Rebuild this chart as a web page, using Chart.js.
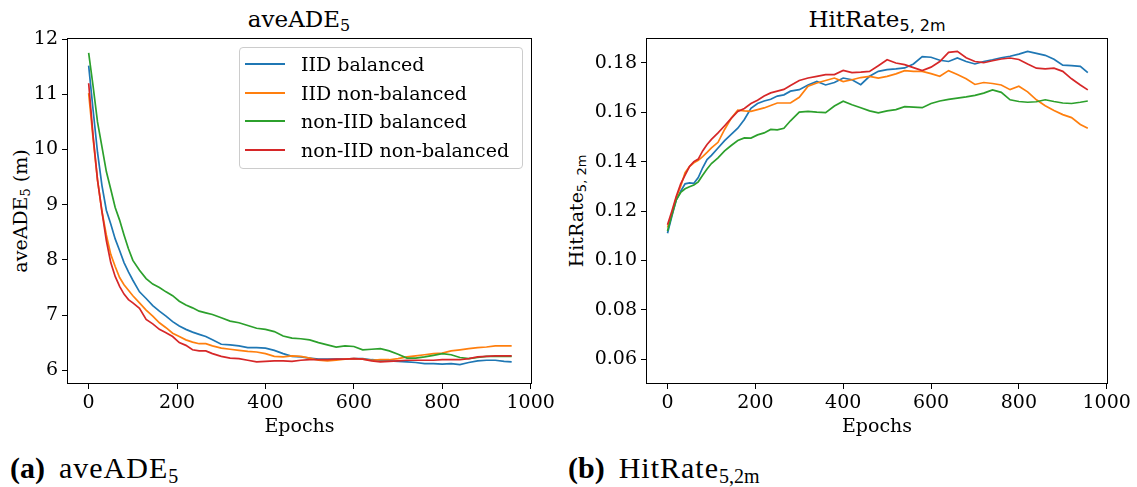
<!DOCTYPE html>
<html>
<head>
<meta charset="utf-8">
<script src="https://cdn.jsdelivr.net/npm/chart.js@4.4.0/dist/chart.umd.min.js"></script>
<style>
  body { margin: 0; background: #fff; }
  #fig { position: relative; width: 1137px; height: 487px; overflow: hidden; font-family: "DejaVu Serif", serif; color: #000; }
  .cv { position: absolute; top: 0; }
  .title { position: absolute; top: 4px; font-size: 23px; line-height: 30px; white-space: nowrap; transform: translateX(-50%); }
  .title sub { font-size: 16px; vertical-align: -4px; line-height: 0; }
  .title sub.sans { font-family: "DejaVu Sans", sans-serif; }
  .ylab { position: absolute; font-size: 19px; line-height: 22px; white-space: nowrap; transform: translate(-50%, -50%) rotate(-90deg); }
  .ylab sub { font-size: 13px; vertical-align: -3px; line-height: 0; }
  .ylab sub.sans { font-family: "DejaVu Sans", sans-serif; }
  .legend { position: absolute; border: 1px solid #cccccc; border-radius: 4px; background: rgba(255,255,255,0.8); }
  .legend .row { position: absolute; left: 0; height: 28px; line-height: 28px; font-size: 19px; white-space: nowrap; }
  .legend .swatch { position: absolute; left: 5px; top: 13px; width: 40px; height: 0; border-top: 2px solid; }
  .legend .lbl { position: absolute; left: 61px; top: 0; }
  .caption { position: absolute; top: 450px; font-family: "Liberation Serif", serif; font-size: 30px; line-height: 36px; letter-spacing: 1px; white-space: nowrap; }
  .caption b { margin-right: 14px; letter-spacing: 0; }
  .caption sub { font-size: 20px; vertical-align: -5px; line-height: 0; letter-spacing: 0; }
</style>
</head>
<body>
<div id="fig">
  <div class="title" style="left:299px">aveADE<sub>5</sub></div>
  <div class="title" style="left:877px">HitRate<sub class="sans">5, 2m</sub></div>
  <div class="ylab" style="left:20px; top:211px">aveADE<sub>5</sub> (m)</div>
  <div class="ylab" style="left:576px; top:211px">HitRate<sub class="sans">5, 2m</sub></div>
  <canvas id="adeChart" class="cv" style="left:0px" width="568" height="445"></canvas>
  <canvas id="hitChart" class="cv" style="left:560px" width="577" height="445"></canvas>
  <div id="legend" class="legend" style="left:239px; top:47px; width:282px; height:120px"></div>
  <div class="caption" style="left:10px"><b>(a)</b>aveADE<sub>5</sub></div>
  <div class="caption" style="left:568px"><b>(b)</b>HitRate<sub>5,2m</sub></div>
</div>
<script>
//=============Data========================================//
const epochs = [0, 10, 20, 30, 40, 50, 60, 70, 80, 90, 100, 115, 130, 145, 160, 175, 190, 205, 220, 235,
    250, 265, 280, 300, 320, 340, 360, 380, 400, 420, 440, 460, 480, 500, 520, 540, 560, 580, 600, 620,
    640, 660, 680, 700, 720, 740, 760, 780, 800, 820, 840, 860, 880, 900, 920, 940, 957];

const seriesNames = ['IID balanced', 'IID non-balanced', 'non-IID balanced', 'non-IID non-balanced'];
const seriesColors = ['#1f77b4', '#ff7f0e', '#2ca02c', '#d62728'];

// aveADE_5 (m)
const adeIidBal = [11.52, 10.72, 9.95, 9.35, 8.90, 8.65, 8.38, 8.17, 7.95, 7.78, 7.63, 7.42, 7.30, 7.17, 7.07, 6.98, 6.88, 6.80, 6.74, 6.69,
    6.65, 6.61, 6.55, 6.47, 6.46, 6.44, 6.41, 6.41, 6.40, 6.36, 6.30, 6.25, 6.24, 6.22, 6.20, 6.20, 6.20, 6.20, 6.21, 6.21,
    6.19, 6.18, 6.17, 6.16, 6.15, 6.14, 6.12, 6.12, 6.11, 6.12, 6.10, 6.14, 6.17, 6.18, 6.18, 6.16, 6.15];
const adeIidNonBal = [11.02, 10.20, 9.45, 8.88, 8.45, 8.10, 7.88, 7.68, 7.55, 7.45, 7.35, 7.22, 7.09, 6.98, 6.86, 6.77, 6.67, 6.61, 6.55, 6.51,
    6.48, 6.48, 6.44, 6.40, 6.38, 6.36, 6.34, 6.33, 6.30, 6.25, 6.24, 6.26, 6.25, 6.22, 6.18, 6.17, 6.18, 6.20, 6.21, 6.20,
    6.18, 6.19, 6.19, 6.21, 6.24, 6.26, 6.28, 6.30, 6.31, 6.35, 6.37, 6.39, 6.41, 6.42, 6.44, 6.44, 6.44];
const adeNonIidBal = [11.75, 11.15, 10.50, 10.05, 9.60, 9.28, 8.95, 8.72, 8.45, 8.20, 7.99, 7.81, 7.66, 7.56, 7.50, 7.42, 7.35, 7.25, 7.18, 7.13,
    7.07, 7.04, 7.01, 6.95, 6.89, 6.86, 6.81, 6.76, 6.74, 6.70, 6.62, 6.58, 6.57, 6.55, 6.50, 6.46, 6.42, 6.44, 6.43, 6.37,
    6.38, 6.39, 6.35, 6.29, 6.22, 6.22, 6.24, 6.27, 6.30, 6.28, 6.23, 6.21, 6.23, 6.25, 6.25, 6.25, 6.25];
const adeNonIidNonBal = [11.20, 10.25, 9.45, 8.88, 8.35, 7.95, 7.70, 7.52, 7.38, 7.28, 7.22, 7.12, 6.92, 6.84, 6.74, 6.68, 6.61, 6.50, 6.45, 6.37,
    6.35, 6.35, 6.30, 6.25, 6.22, 6.21, 6.18, 6.15, 6.16, 6.17, 6.17, 6.16, 6.18, 6.19, 6.19, 6.19, 6.20, 6.20, 6.21, 6.20,
    6.17, 6.15, 6.16, 6.17, 6.18, 6.18, 6.18, 6.18, 6.19, 6.19, 6.19, 6.21, 6.24, 6.25, 6.26, 6.26, 6.26];

// HitRate_{5,2m}
const hitIidBal = [0.111, 0.118, 0.1245, 0.128, 0.131, 0.1314, 0.1312, 0.1335, 0.1375, 0.1408, 0.1425, 0.1455, 0.1485, 0.151, 0.1535, 0.157, 0.1615, 0.1635, 0.1645, 0.1652,
    0.1665, 0.167, 0.1685, 0.1691, 0.171, 0.1724, 0.171, 0.172, 0.1738, 0.1731, 0.1711, 0.1745, 0.1765, 0.1772, 0.1775, 0.1779, 0.1795, 0.1825, 0.1822, 0.181,
    0.1805, 0.1819, 0.1805, 0.1795, 0.1805, 0.1812, 0.182, 0.1826, 0.1835, 0.1846, 0.1838, 0.183, 0.1814, 0.179, 0.1788, 0.1785, 0.176];
const hitIidNonBal = [0.1133, 0.119, 0.1255, 0.130, 0.1355, 0.138, 0.1395, 0.1405, 0.142, 0.1437, 0.1455, 0.1478, 0.153, 0.1575, 0.1608, 0.1605, 0.1603, 0.161, 0.1617, 0.1627,
    0.1637, 0.1637, 0.1637, 0.166, 0.1705, 0.1718, 0.1728, 0.1738, 0.1724, 0.1731, 0.174, 0.1745, 0.1738, 0.1745, 0.1755, 0.1768, 0.1765, 0.1765, 0.1756, 0.1745,
    0.1768, 0.1752, 0.1735, 0.1712, 0.172, 0.1716, 0.171, 0.1691, 0.1705, 0.1682, 0.165, 0.1626, 0.1607, 0.159, 0.1578, 0.155, 0.1535];
const hitNonIidBal = [0.1119, 0.1185, 0.1245, 0.1275, 0.129, 0.1298, 0.1305, 0.1318, 0.1345, 0.137, 0.1392, 0.1415, 0.1443, 0.1465, 0.1485, 0.1496, 0.1495, 0.1508, 0.1516, 0.153,
    0.1528, 0.1535, 0.1565, 0.160, 0.1603, 0.160, 0.1598, 0.1625, 0.1644, 0.163, 0.1618, 0.1605, 0.1597, 0.1605, 0.161, 0.1622, 0.162, 0.1618, 0.1635, 0.1645,
    0.1652, 0.1657, 0.1662, 0.1668, 0.1677, 0.169, 0.168, 0.165, 0.1643, 0.164, 0.1642, 0.165, 0.1643, 0.1637, 0.1635, 0.164, 0.1645];
const hitNonIidNonBal = [0.1144, 0.120, 0.126, 0.131, 0.1345, 0.138, 0.140, 0.141, 0.1443, 0.1469, 0.149, 0.1516, 0.1545, 0.1575, 0.1603, 0.1615, 0.1635, 0.1648, 0.1665, 0.1678,
    0.1685, 0.1692, 0.1708, 0.1728, 0.1738, 0.1745, 0.1752, 0.1752, 0.1769, 0.176, 0.1762, 0.1765, 0.1788, 0.1812, 0.1799, 0.1792, 0.178, 0.1768, 0.1782, 0.1805,
    0.1842, 0.1846, 0.182, 0.1805, 0.18, 0.1808, 0.1815, 0.1819, 0.1813, 0.1795, 0.1778, 0.1775, 0.1778, 0.1765, 0.1735, 0.171, 0.169];

const xTicks = [0, 200, 400, 600, 800, 1000];
const adeTicks = [6, 7, 8, 9, 10, 11, 12];
const hitTicks = [0.06, 0.08, 0.10, 0.12, 0.14, 0.16, 0.18];

//=============Chart setup====================//
const tickFont = { family: 'DejaVu Serif', size: 19 };

// box round the plot area, like matplotlib spines
const framePlugin = {
    id: 'frame',
    afterDraw(chart) {
        const { ctx, chartArea: a } = chart;
        ctx.save();
        ctx.strokeStyle = '#000';
        ctx.lineWidth = 1;
        ctx.strokeRect(Math.round(a.left) + 0.5, Math.round(a.top) + 0.5,
            Math.round(a.right - a.left) - 1, Math.round(a.bottom - a.top) - 1);
        ctx.restore();
    }
};

function makeDatasets(seriesList) {
    return seriesList.map((vals, i) => ({
        label: seriesNames[i],
        data: epochs.map((e, j) => ({ x: e, y: vals[j] })),
        borderColor: seriesColors[i],
        borderWidth: 1.7,
        pointRadius: 0,
        tension: 0,
        order: seriesList.length - i   // last series drawn on top
    }));
}

function makeChart(canvasId, seriesList, yTicks, yMin, yMax, yWidth, padRight, fmt) {
    const ctx = document.getElementById(canvasId).getContext('2d');
    return new Chart(ctx, {
        type: 'line',
        data: { datasets: makeDatasets(seriesList) },
        options: {
            responsive: false,
            animation: false,
            events: [],
            layout: { padding: { top: 38, right: padRight, bottom: 0, left: 0 } },
            plugins: { legend: { display: false }, tooltip: { enabled: false } },
            scales: {
                x: {
                    type: 'linear',
                    min: -49,
                    max: 1003,
                    afterBuildTicks: s => { s.ticks = xTicks.map(v => ({ value: v })); },
                    afterFit: s => { s.height = 61; },
                    border: { display: false },
                    grid: { drawOnChartArea: false, drawTicks: true, tickLength: 5, color: '#000' },
                    ticks: { autoSkip: false, maxRotation: 0, padding: 3, color: '#000', font: tickFont, callback: v => String(v) },
                    title: { display: true, text: 'Epochs', color: '#000', font: tickFont, padding: { top: 0, bottom: 7 } }
                },
                y: {
                    type: 'linear',
                    min: yMin,
                    max: yMax,
                    afterBuildTicks: s => { s.ticks = yTicks.map(v => ({ value: v })); },
                    afterFit: s => { s.width = yWidth; },
                    border: { display: false },
                    grid: { drawOnChartArea: false, drawTicks: true, tickLength: 5, color: '#000' },
                    ticks: { autoSkip: false, padding: 4, color: '#000', font: tickFont, callback: v => fmt(v) }
                }
            }
        },
        plugins: [framePlugin]
    });
}

// legend built from the same names/colours
function buildLegend() {
    const box = document.getElementById('legend');
    seriesNames.forEach((name, i) => {
        const row = document.createElement('div');
        row.className = 'row';
        row.style.top = (2 + i * 28.7) + 'px';
        row.innerHTML = `<span class="swatch" style="border-color:${seriesColors[i]}"></span><span class="lbl">${name}</span>`;
        box.appendChild(row);
    });
}

document.addEventListener("DOMContentLoaded", function () {
    makeChart('adeChart', [adeIidBal, adeIidNonBal, adeNonIidBal, adeNonIidNonBal],
        adeTicks, 5.75, 12.02, 67, 36, v => String(v));
    makeChart('hitChart', [hitIidBal, hitIidNonBal, hitNonIidBal, hitNonIidNonBal],
        hitTicks, 0.05, 0.19, 86, 29, v => v.toFixed(2));
    buildLegend();
});
</script>
</body>
</html>
